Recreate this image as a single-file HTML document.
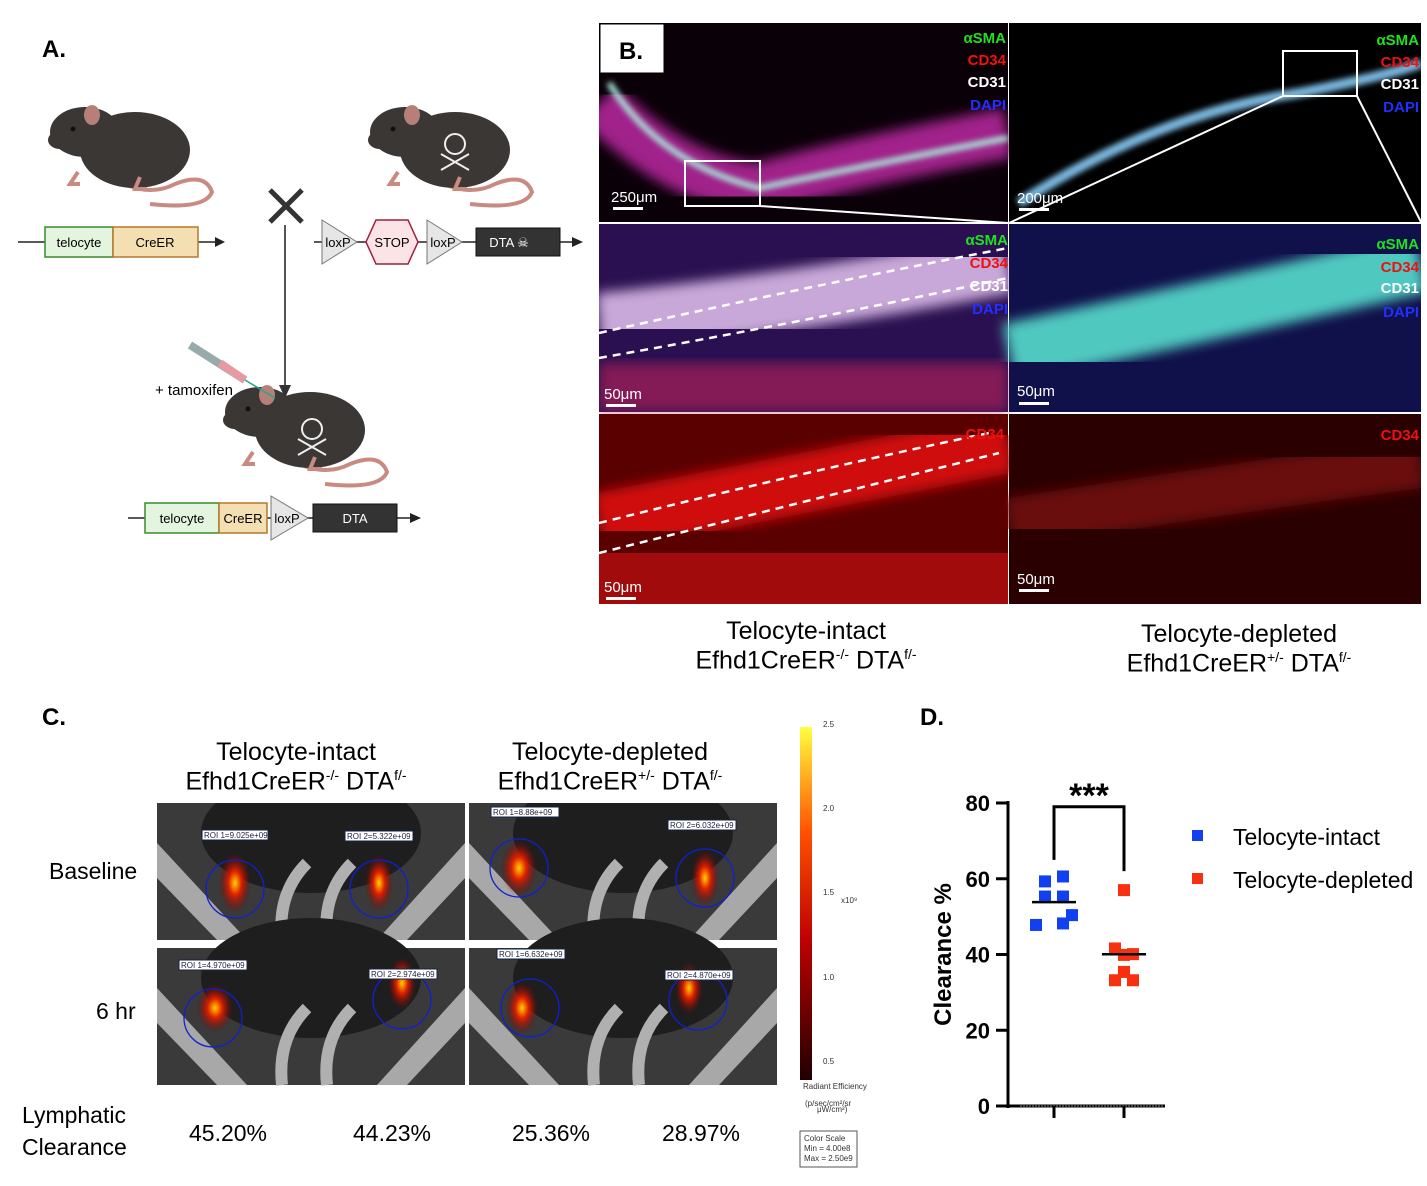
<!DOCTYPE html>
<html><head><meta charset="utf-8">
<style>
body{margin:0;background:#fff;}
#root{position:relative;width:1427px;height:1186px;overflow:hidden;font-family:"Liberation Sans",sans-serif;color:#000;}
.abs{position:absolute;}
.lbl{position:absolute;font-weight:bold;font-size:24px;}
.cap{position:absolute;font-size:23px;text-align:center;white-space:nowrap;}
.big{font-size:25px;}
</style></head>
<body>
<div id="root">

<div class="lbl" style="left:42px;top:36px">A.</div>

<svg class="abs" style="left:0;top:80px" width="600" height="470">
 <defs>
  <g id="mouse">
   <path d="M120,170 Q150,185 175,172 Q205,160 212,180 Q205,198 150,192" fill="none" stroke="#c98a82" stroke-width="4"/>
   <ellipse cx="135" cy="138" rx="55" ry="38" fill="#3a3735"/>
   <ellipse cx="85" cy="120" rx="35" ry="25" fill="#3a3735"/>
   <ellipse cx="60" cy="128" rx="12" ry="9" fill="#3a3735"/>
   <ellipse cx="92" cy="103" rx="8" ry="10" fill="#b68078"/>
   <circle cx="73" cy="117" r="2.5" fill="#111"/>
   <path d="M78,160 l-8,12 l10,0 M140,165 l-5,12 l12,0" stroke="#c98a82" stroke-width="4" fill="none"/>
  </g>
  <g id="skull" fill="none" stroke="#eee" stroke-width="2">
   <circle cx="0" cy="-6" r="10"/><path d="M-14,4 L14,20 M14,4 L-14,20"/>
  </g>
 </defs>
 <use href="#mouse" x="0" y="-68"/>
 <use href="#mouse" x="320" y="-68"/>
 <use href="#skull" x="455" y="70"/>
 <use href="#mouse" x="175" y="212"/>
 <use href="#skull" x="312" y="355"/>
 <path d="M270,110 L302,142 M302,110 L270,142" stroke="#333" stroke-width="5"/>
 <line x1="285" y1="145" x2="285" y2="308" stroke="#555" stroke-width="2"/>
 <path d="M279,305 L285,318 L291,305Z" fill="#333"/>
 <line x1="18" y1="162" x2="218" y2="162" stroke="#222" stroke-width="1.5"/><path d="M215,157 L225,162 L215,167Z" fill="#222"/>
 <rect x="45" y="147" width="68" height="30" fill="#e3f5de" stroke="#3a8a2a" stroke-width="1.5"/>
 <text x="79" y="167" font-size="13" text-anchor="middle" font-family="Liberation Sans">telocyte</text>
 <rect x="113" y="147" width="85" height="30" fill="#f3dfb2" stroke="#b5782a" stroke-width="1.5"/>
 <text x="155" y="167" font-size="13" text-anchor="middle" font-family="Liberation Sans">CreER</text>
 <line x1="314" y1="162" x2="575" y2="162" stroke="#222" stroke-width="1.5"/><path d="M572,157 L583,162 L572,167Z" fill="#222"/>
 <path d="M322,140 L357,162 L322,184Z" fill="#e6e6e6" stroke="#777"/><text x="338" y="167" font-size="13" text-anchor="middle">loxP</text>
 <path d="M376,140 L408,140 L418,162 L408,184 L376,184 L366,162Z" fill="#fbe3e6" stroke="#a01e3a" stroke-width="1.5"/><text x="392" y="167" font-size="13" text-anchor="middle">STOP</text>
 <path d="M427,140 L462,162 L427,184Z" fill="#e6e6e6" stroke="#777"/><text x="443" y="167" font-size="13" text-anchor="middle">loxP</text>
 <rect x="476" y="148" width="84" height="28" fill="#333" stroke="#111"/><text x="509" y="167" font-size="13" fill="#fff" text-anchor="middle">DTA ☠</text>
 <text x="155" y="315" font-size="15" font-family="Liberation Sans">+ tamoxifen</text>
 <path d="M190,265 L245,300" stroke="#9aa" stroke-width="8"/><path d="M220,283 L245,300" stroke="#e89aa3" stroke-width="8"/><path d="M245,300 L275,318" stroke="#2a8" stroke-width="1.5"/>
 <line x1="128" y1="438" x2="412" y2="438" stroke="#222" stroke-width="1.5"/><path d="M410,433 L421,438 L410,443Z" fill="#222"/>
 <rect x="145" y="423" width="74" height="30" fill="#e3f5de" stroke="#3a8a2a" stroke-width="1.5"/><text x="182" y="443" font-size="13" text-anchor="middle">telocyte</text>
 <rect x="219" y="423" width="48" height="30" fill="#f3dfb2" stroke="#b5782a" stroke-width="1.5"/><text x="243" y="443" font-size="13" text-anchor="middle">CreER</text>
 <path d="M271,416 L308,438 L271,460Z" fill="#e6e6e6" stroke="#777"/><text x="287" y="443" font-size="13" text-anchor="middle">loxP</text>
 <rect x="313" y="424" width="84" height="28" fill="#333" stroke="#111"/><text x="355" y="443" font-size="13" fill="#fff" text-anchor="middle">DTA</text>
</svg>

<!-- Panel B -->
<svg class="abs" style="left:599px;top:23px" width="822" height="581">
 <defs>
  <filter id="bl"><feGaussianBlur stdDeviation="6"/></filter>
  <filter id="bl2"><feGaussianBlur stdDeviation="3"/></filter>
 </defs>
 <rect width="822" height="581" fill="#fff"/>
 <rect x="0" y="0" width="409" height="199" fill="#0a0008"/>
 <path d="M0,80 Q80,160 160,165 Q250,140 409,110" stroke="#a0208a" stroke-width="50" fill="none" filter="url(#bl)"/>
 <path d="M10,60 Q60,140 160,165 Q280,140 409,115" stroke="#a8e6d8" stroke-width="6" fill="none" filter="url(#bl2)"/>
 <rect x="410" y="0" width="412" height="199" fill="#000"/>
 <path d="M420,180 Q560,90 700,70 Q800,50 822,40" stroke="#7ab8e0" stroke-width="10" fill="none" filter="url(#bl2)"/>
 <rect x="0" y="201" width="409" height="188" fill="#2a1050"/>
 <path d="M0,300 Q200,280 409,240" stroke="#c8a8d8" stroke-width="60" fill="none" filter="url(#bl)"/>
 <rect x="0" y="340" width="409" height="49" fill="#c0205a" opacity="0.6" filter="url(#bl)"/>
 <rect x="410" y="201" width="412" height="188" fill="#10104a"/>
 <path d="M410,330 Q600,290 822,240" stroke="#50c8c0" stroke-width="60" fill="none" filter="url(#bl)"/>
 <rect x="0" y="391" width="409" height="190" fill="#5a0000"/>
 <path d="M0,500 Q200,460 409,420" stroke="#d01010" stroke-width="60" fill="none" filter="url(#bl)"/>
 <rect x="0" y="530" width="409" height="51" fill="#c01010" opacity="0.7"/>
 <rect x="410" y="391" width="412" height="190" fill="#2a0000"/>
 <path d="M410,500 Q600,470 822,440" stroke="#6a0808" stroke-width="50" fill="none" filter="url(#bl)"/>
 <path d="M0,310 Q200,265 409,225 M0,335 Q200,300 409,255" stroke="#fff" stroke-width="2.5" stroke-dasharray="8 6" fill="none"/>
 <path d="M0,500 Q200,450 390,410 M0,530 Q200,480 400,430" stroke="#fff" stroke-width="2.5" stroke-dasharray="8 6" fill="none"/>
 <rect x="86" y="138" width="75" height="45" fill="none" stroke="#fff" stroke-width="2"/>
 <rect x="684" y="28" width="74" height="45" fill="none" stroke="#fff" stroke-width="2"/>
 <line x1="161" y1="183" x2="409" y2="200" stroke="#fff" stroke-width="2"/>
 <line x1="684" y1="73" x2="410" y2="200" stroke="#fff" stroke-width="2"/>
 <line x1="758" y1="73" x2="822" y2="199" stroke="#fff" stroke-width="2"/>
 <rect x="1" y="1" width="64" height="49" fill="#fff" stroke="#000"/>
 <text x="20" y="36" font-size="24" font-weight="bold" font-family="Liberation Sans">B.</text>
 <g font-family="Liberation Sans" font-weight="bold" font-size="15" text-anchor="end">
  <text x="407" y="20" fill="#20e020">αSMA</text><text x="407" y="42" fill="#f01010">CD34</text><text x="407" y="64" fill="#fff">CD31</text><text x="407" y="87" fill="#2030ff">DAPI</text>
  <text x="820" y="22" fill="#20e020">αSMA</text><text x="820" y="44" fill="#f01010">CD34</text><text x="820" y="66" fill="#fff">CD31</text><text x="820" y="89" fill="#2030ff">DAPI</text>
  <text x="409" y="222" fill="#20e020">αSMA</text><text x="409" y="245" fill="#f01010">CD34</text><text x="409" y="268" fill="#fff">CD31</text><text x="409" y="291" fill="#2030ff">DAPI</text>
  <text x="820" y="226" fill="#20e020">αSMA</text><text x="820" y="249" fill="#f01010">CD34</text><text x="820" y="270" fill="#fff">CD31</text><text x="820" y="294" fill="#2030ff">DAPI</text>
  <text x="405" y="416" fill="#f01010">CD34</text><text x="820" y="417" fill="#f01010">CD34</text>
 </g>
 <g font-family="Liberation Sans" font-size="15" fill="#fff">
  <text x="12" y="179">250μm</text><rect x="14" y="184" width="30" height="3"/>
  <text x="418" y="180">200μm</text><rect x="420" y="185" width="30" height="3"/>
  <text x="5" y="376">50μm</text><rect x="7" y="381" width="30" height="3"/>
  <text x="418" y="373">50μm</text><rect x="420" y="379" width="30" height="3"/>
  <text x="5" y="569">50μm</text><rect x="7" y="574" width="30" height="3"/>
  <text x="418" y="561">50μm</text><rect x="420" y="566" width="30" height="3"/>
 </g>
</svg>

<div class="cap big" style="left:806px;top:617px;transform:translateX(-50%)">Telocyte-intact<br>Efhd1CreER<sup style="font-size:14px">-/-</sup> DTA<sup style="font-size:14px">f/-</sup></div>
<div class="cap big" style="left:1239px;top:620px;transform:translateX(-50%)">Telocyte-depleted<br>Efhd1CreER<sup style="font-size:14px">+/-</sup> DTA<sup style="font-size:14px">f/-</sup></div>

<!-- Panel C -->
<div class="lbl" style="left:42px;top:704px">C.</div>
<div class="cap big" style="left:296px;top:738px;transform:translateX(-50%)">Telocyte-intact<br>Efhd1CreER<sup style="font-size:14px">-/-</sup> DTA<sup style="font-size:14px">f/-</sup></div>
<div class="cap big" style="left:610px;top:738px;transform:translateX(-50%)">Telocyte-depleted<br>Efhd1CreER<sup style="font-size:14px">+/-</sup> DTA<sup style="font-size:14px">f/-</sup></div>
<div class="cap" style="left:49px;top:858px">Baseline</div>
<div class="cap" style="left:96px;top:998px">6 hr</div>
<div class="cap" style="left:22px;top:1099px;text-align:left;line-height:32px">Lymphatic<br>Clearance</div>
<div class="cap" style="left:228px;top:1120px;transform:translateX(-50%)">45.20%</div>
<div class="cap" style="left:392px;top:1120px;transform:translateX(-50%)">44.23%</div>
<div class="cap" style="left:551px;top:1120px;transform:translateX(-50%)">25.36%</div>
<div class="cap" style="left:701px;top:1120px;transform:translateX(-50%)">28.97%</div>

<svg class="abs" style="left:157px;top:803px" width="622" height="283">
 <defs>
  <radialGradient id="hot"><stop offset="0" stop-color="#ffd000"/><stop offset="0.4" stop-color="#e02000"/><stop offset="1" stop-color="#800000" stop-opacity="0"/></radialGradient>
  <g id="tile">
   <rect width="308" height="137" fill="#3a3a3a"/>
   <ellipse cx="154" cy="30" rx="110" ry="60" fill="#1e1e1e"/>
   <path d="M0,40 L90,137 L60,137 L0,75Z M308,40 L220,137 L250,137 L308,75Z" fill="#a8a8a8"/>
   <path d="M150,60 Q120,90 125,137" stroke="#b0b0b0" stroke-width="12" fill="none"/>
   <path d="M195,60 Q165,90 170,137" stroke="#b0b0b0" stroke-width="12" fill="none"/>
  </g>
 </defs>
 <use href="#tile" x="0" y="0"/><use href="#tile" x="312" y="0"/>
 <use href="#tile" x="0" y="145"/><use href="#tile" x="312" y="145"/>
 <g fill="url(#hot)">
  <ellipse cx="78" cy="80" rx="16" ry="30"/><ellipse cx="222" cy="80" rx="14" ry="28"/>
  <ellipse cx="362" cy="65" rx="18" ry="28"/><ellipse cx="548" cy="75" rx="14" ry="28"/>
  <ellipse cx="58" cy="205" rx="18" ry="24"/><ellipse cx="245" cy="180" rx="14" ry="26"/>
  <ellipse cx="365" cy="205" rx="16" ry="26"/><ellipse cx="532" cy="185" rx="14" ry="26"/>
 </g>
 <g fill="none" stroke="#1020d0" stroke-width="1.3">
  <circle cx="78" cy="86" r="29"/><circle cx="222" cy="86" r="29"/><circle cx="362" cy="65" r="29"/><circle cx="548" cy="75" r="29"/>
  <circle cx="56" cy="215" r="29"/><circle cx="245" cy="197" r="29"/><circle cx="373" cy="205" r="29"/><circle cx="541" cy="198" r="29"/>
 </g>
 <g font-size="8" font-family="Liberation Sans" fill="#224">
  <rect x="45" y="27" width="66" height="10" fill="#fff" stroke="#124"/><text x="47" y="35">ROI 1=9.025e+09</text>
  <rect x="188" y="28" width="68" height="10" fill="#fff" stroke="#124"/><text x="190" y="36">ROI 2=5.322e+09</text>
  <rect x="334" y="4" width="68" height="10" fill="#fff" stroke="#124"/><text x="336" y="12">ROI 1=8.88e+09</text>
  <rect x="511" y="17" width="68" height="10" fill="#fff" stroke="#124"/><text x="513" y="25">ROI 2=6.032e+09</text>
  <rect x="22" y="157" width="68" height="10" fill="#fff" stroke="#124"/><text x="24" y="165">ROI 1=4.970e+09</text>
  <rect x="212" y="166" width="68" height="10" fill="#fff" stroke="#124"/><text x="214" y="174">ROI 2=2.974e+09</text>
  <rect x="340" y="146" width="68" height="10" fill="#fff" stroke="#124"/><text x="342" y="154">ROI 1=6.632e+09</text>
  <rect x="508" y="167" width="68" height="10" fill="#fff" stroke="#124"/><text x="510" y="175">ROI 2=4.870e+09</text>
 </g>
</svg>

<svg class="abs" style="left:795px;top:718px" width="80" height="455">
 <defs><linearGradient id="cs" x1="0" y1="1" x2="0" y2="0"><stop offset="0" stop-color="#200000"/><stop offset="0.4" stop-color="#c00000"/><stop offset="0.7" stop-color="#ff5000"/><stop offset="1" stop-color="#ffff40"/></linearGradient></defs>
 <rect x="5" y="9" width="12" height="353" fill="url(#cs)"/>
 <g font-size="8" font-family="Liberation Sans" fill="#333">
  <text x="28" y="9">2.5</text><text x="28" y="93">2.0</text><text x="28" y="177">1.5</text><text x="46" y="185">x10⁹</text><text x="28" y="262">1.0</text><text x="28" y="346">0.5</text>
  <text x="8" y="371">Radiant Efficiency</text><text x="10" y="388">(p/sec/cm²/sr</text><text x="22" y="394">μW/cm²)</text>
  <rect x="5" y="413" width="57" height="36" fill="#fff" stroke="#555"/>
  <text x="9" y="423">Color Scale</text><text x="9" y="433">Min = 4.00e8</text><text x="9" y="443">Max = 2.50e9</text>
 </g>
</svg>

<!-- Panel D -->
<div class="lbl" style="left:920px;top:704px">D.</div>
<svg id="chartD" class="abs" style="left:920px;top:760px" width="507" height="380"></svg>

<script>
const categories = ["Telocyte-intact","Telocyte-depleted"];
const intactValues = [60.6, 59.3, 55.3, 55.3, 50.4, 47.8, 48.2];
const depletedValues = [57.0, 41.6, 39.9, 40.1, 35.4, 33.2, 33.2];
const jitterIntact = [1, -1, -1, 1, 2, -2, 1];
const jitterDepleted = [0, -1, 0, 1, 0, -1, 1];
const yTicks = [0, 20, 40, 60, 80];
const colors = ["#1040f0","#f83010"];

const NS = "http://www.w3.org/2000/svg";
const svg = document.getElementById('chartD');
const y = v => 346 - v * (303/80);
const xc = i => 134 + i * 70;
function mk(tag, attrs, parent){ const e=document.createElementNS(NS,tag); for(const k in attrs) e.setAttribute(k,attrs[k]); (parent||svg).appendChild(e); return e; }

const ax = mk('line',{x1:88,y1:y(80)-2,x2:88,y2:y(0)+2,stroke:'#000','stroke-width':3});


const xa = mk('line',{x1:88,y1:y(0),x2:245,y2:y(0),stroke:'#000','stroke-width':3});


mk('line',{x1:100,y1:y(0),x2:243,y2:y(0),stroke:'#888','stroke-width':1,'stroke-dasharray':'2 1'});
yTicks.forEach(t=>{
  mk('line',{x1:76,y1:y(t),x2:88,y2:y(t),stroke:'#000','stroke-width':3});
  const tx = mk('text',{x:70,y:y(t)+8,'text-anchor':'end','font-size':22,'font-weight':'bold','font-family':'Liberation Sans'});
  tx.textContent = t;
  
  
});
categories.forEach((c,i)=>{ mk('line',{x1:xc(i),y1:y(0),x2:xc(i),y2:y(0)+12,stroke:'#000','stroke-width':3}); });
const yt = mk('text',{x:0,y:0,transform:'translate(31,'+y(40)+') rotate(-90)','text-anchor':'middle','font-size':24,'font-weight':'bold','font-family':'Liberation Sans'});
yt.textContent = 'Clearance %';



[intactValues, depletedValues].forEach((vals,i)=>{
  const jit = i===0 ? jitterIntact : jitterDepleted;
  vals.forEach((v,j)=>{
    const r = mk('rect',{x:xc(i)+jit[j]*9-6,y:y(v)-6,width:12,height:12,fill:colors[i]});
    
    
  });
  const m = vals.reduce((a,b)=>a+b,0)/vals.length;
  const ml = mk('line',{x1:xc(i)-22,y1:y(m),x2:xc(i)+22,y2:y(m),stroke:'#000','stroke-width':2.5});
  
  
});
const br = mk('path',{d:'M'+xc(0)+','+y(65)+' V'+y(79)+' H'+xc(1)+' V'+y(62),fill:'none',stroke:'#000','stroke-width':3});


const st = mk('text',{x:(xc(0)+xc(1))/2,y:y(80)+4,'text-anchor':'middle','font-size':34,'font-weight':'bold','font-family':'Liberation Sans'});
st.textContent = '***';


categories.forEach((c,i)=>{
  const r = mk('rect',{x:272,y:70+i*43,width:11,height:11,fill:colors[i]});
  
  
  const t = mk('text',{x:313,y:85+i*43,'font-size':23,'font-family':'Liberation Sans'});
  t.textContent = c;
  
  
});
</script>
</div>
</body></html>
